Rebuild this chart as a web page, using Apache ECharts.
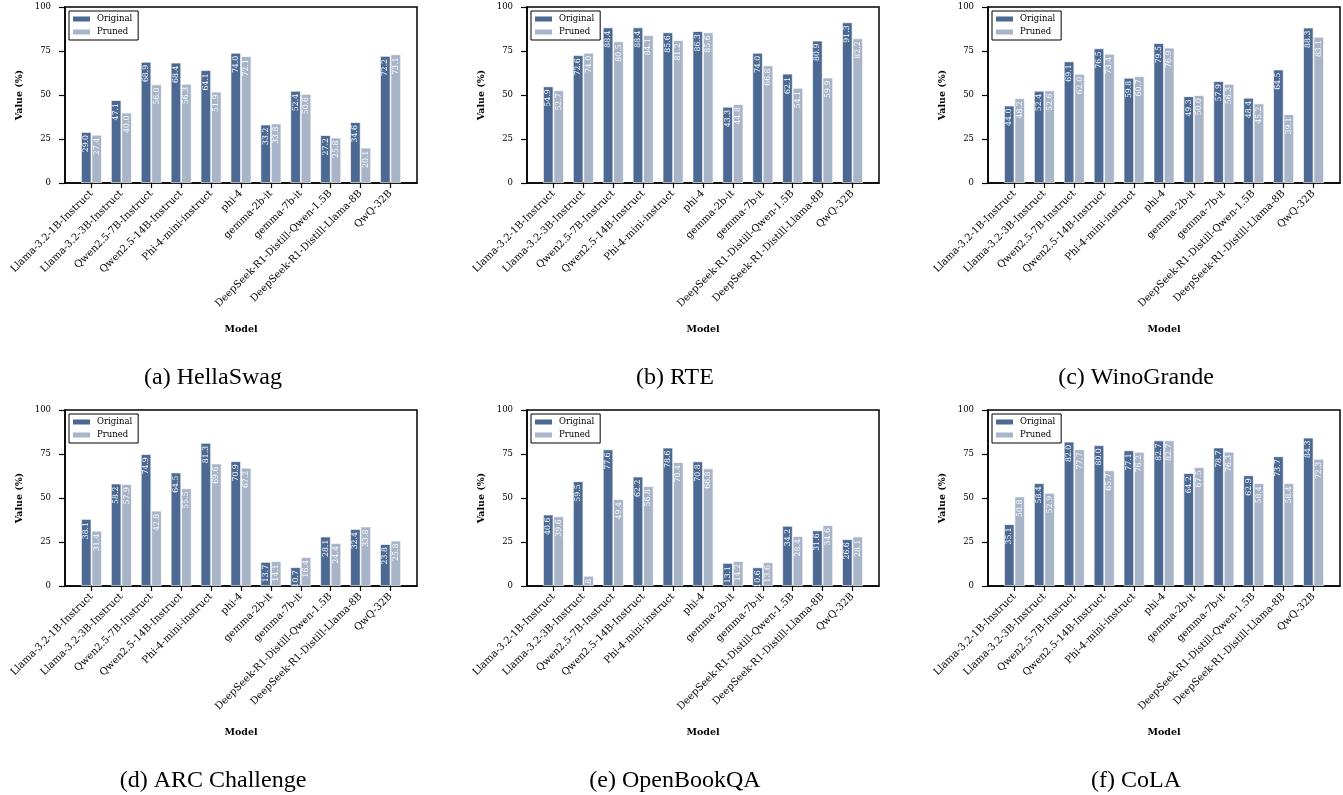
<!DOCTYPE html>
<html><head><meta charset="utf-8">
<script src="https://cdn.jsdelivr.net/npm/echarts@6/dist/echarts.min.js"></script>
<style>html,body{margin:0;padding:0;background:#fff}#chart{width:1343px;height:795px}</style>
</head><body><div id="chart"></div>
<script>
const categories = ['Llama-3.2-1B-Instruct','Llama-3.2-3B-Instruct','Qwen2.5-7B-Instruct','Qwen2.5-14B-Instruct','Phi-4-mini-instruct','phi-4','gemma-2b-it','gemma-7b-it','DeepSeek-R1-Distill-Qwen-1.5B','DeepSeek-R1-Distill-Llama-8B','QwQ-32B'];
const yTicks = [0, 25, 50, 75, 100];
const seriesNames = ['Original', 'Pruned'];
const panelTitles = ['(a) HellaSwag','(b) RTE','(c) WinoGrande','(d) ARC Challenge','(e) OpenBookQA','(f) CoLA'];

const hellaswagOriginal = [29.0,47.1,68.9,68.4,64.1,74.0,33.2,52.4,27.2,34.6,72.2];
const hellaswagPruned   = [27.4,40.0,56.0,56.3,51.9,72.1,33.8,50.6,25.8,20.1,73.1];
const rteOriginal       = [54.9,72.6,88.4,88.4,85.6,86.3,43.3,74.0,62.1,80.9,91.3];
const rtePruned         = [52.7,74.0,80.5,84.1,81.2,85.6,44.8,66.8,54.1,59.9,82.2];
const winoOriginal      = [44.0,52.4,69.1,76.5,59.8,79.5,49.3,57.9,48.4,64.5,88.3];
const winoPruned        = [48.2,52.6,62.0,73.4,60.7,76.9,50.0,56.3,45.2,39.1,83.1];
const arcOriginal       = [38.1,58.2,74.9,64.5,81.3,70.9,13.7,10.7,28.1,32.4,23.8];
const arcPruned         = [31.4,57.9,42.8,55.5,69.6,67.2,14.1,16.4,24.4,33.8,25.8];
const obqaOriginal      = [40.6,59.5,77.6,62.2,78.6,70.8,13.1,10.6,34.2,31.6,26.6];
const obqaPruned        = [39.6,5.8,49.4,56.8,70.4,66.8,14.2,13.6,28.4,34.6,28.1];
const colaOriginal      = [35.1,58.4,82.0,80.0,77.1,82.7,64.2,78.7,62.9,73.7,84.3];
const colaPruned        = [50.8,52.9,77.7,65.7,76.2,82.7,67.5,76.3,58.4,58.4,72.3];

const panelData = [
  [hellaswagOriginal, hellaswagPruned],
  [rteOriginal, rtePruned],
  [winoOriginal, winoPruned],
  [arcOriginal, arcPruned],
  [obqaOriginal, obqaPruned],
  [colaOriginal, colaPruned]
];

const FONT = '"DejaVu Serif", serif';
const panelLefts = [65, 527, 988];
const panelTops = [7, 410];
const plotW = 352, plotH = 176;
const colors = ['#4b6992', '#a8b4c8'];
const catIdx = categories.map((c, j) => j);

const grid = [], xAxis = [], yAxis = [], series = [], legend = [], graphicEls = [];
panelData.forEach((pair, i) => {
  const left = panelLefts[i % 3], top = panelTops[Math.floor(i / 3)];
  grid.push({left: left, top: top, width: plotW, height: plotH, show: true,
    borderColor: '#000', borderWidth: 1.5, backgroundColor: 'transparent'});
  xAxis.push({
    type: 'value', gridIndex: i, min: -0.885, max: categories.length - 1 + 0.885,
    splitLine: {show: false},
    axisLine: {show: true, onZero: false, lineStyle: {color: '#000', width: 1.5}},
    axisTick: {show: true, customValues: catIdx, length: 5, lineStyle: {color: '#000', width: 1.2}},
    axisLabel: {customValues: catIdx, formatter: v => categories[Math.round(v)] || '',
      rotate: 45, fontSize: 10, fontFamily: FONT, color: '#000', margin: 9},
    name: 'Model', nameLocation: 'middle', nameGap: 142,
    nameTextStyle: {fontWeight: 'bold', fontSize: 9.5, fontFamily: FONT, color: '#000'}
  });
  yAxis.push({
    type: 'value', gridIndex: i, min: yTicks[0], max: yTicks[yTicks.length - 1], interval: 25,
    splitLine: {show: false},
    axisLine: {show: true, onZero: false, lineStyle: {color: '#000', width: 1.5}},
    axisTick: {show: true, length: 6, lineStyle: {color: '#000', width: 1.2}},
    axisLabel: {fontSize: 8.5, fontFamily: FONT, color: '#000', margin: 14},
    name: 'Value (%)', nameLocation: 'middle', nameGap: 40,
    nameTextStyle: {fontWeight: 'bold', fontSize: 9.5, fontFamily: FONT, color: '#000'}
  });
  pair.forEach((arr, k) => {
    series.push({
      type: 'bar', name: seriesNames[k], xAxisIndex: i, yAxisIndex: i,
      data: arr.map((v, j) => [j, v]),
      barWidth: '35%', barGap: '0%',
      itemStyle: {color: colors[k], borderColor: 'rgba(255,255,255,0.85)', borderWidth: 0.8},
      label: {show: true, position: 'insideTop', rotate: 90, align: 'right', verticalAlign: 'middle',
        distance: 3, color: '#fff', fontSize: 7.8, fontFamily: FONT,
        formatter: p => p.value[1].toFixed(1)},
      emphasis: {disabled: true},
      animation: false
    });
  });
  legend.push({
    orient: 'vertical', left: left + 4, top: top + 4, data: seriesNames,
    backgroundColor: '#fff', borderColor: '#000', borderWidth: 1, borderRadius: 0,
    padding: [3, 6, 3, 4], itemWidth: 17, itemHeight: 5, itemGap: 3, icon: 'rect',
    itemStyle: {borderWidth: 0},
    textStyle: {fontSize: 8.5, fontFamily: FONT, color: '#000', lineHeight: 10, padding: [0, 0, 0, 2]},
    selectedMode: false
  });
  graphicEls.push({
    type: 'text', x: left + 148, y: top + 371,
    style: {text: panelTitles[i], font: '24px "Liberation Serif"', fill: '#000', align: 'center', verticalAlign: 'middle'}
  });
});

const chart = echarts.init(document.getElementById('chart'));
chart.setOption({
  animation: false,
  backgroundColor: '#fff',
  grid: grid, xAxis: xAxis, yAxis: yAxis, series: series, legend: legend,
  graphic: {elements: graphicEls}
});
</script></body></html>
